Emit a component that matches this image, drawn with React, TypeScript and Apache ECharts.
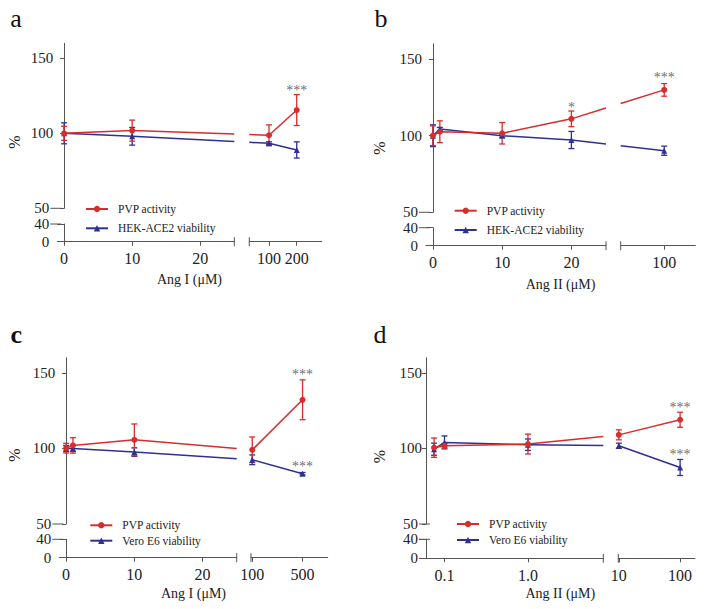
import React, { useEffect, useRef } from 'react';
import * as echarts from 'echarts';

const FONT = '"Liberation Serif", "Times New Roman", serif';
const RED = '#D62D2D';
const BLUE = '#2E3192';
const AXIS = '#555555';
const TEXT = '#222222';
const STAR = '#444444';

const PVP_NAME = 'PVP activity';
const HEK_NAME = 'HEK-ACE2 viability';
const VERO_NAME = 'Vero E6 viability';

// ---------- data ----------
// panel a : Ang I, HEK-ACE2
const aX = [0, 10, 100, 200];
const aPvp = [100, 101.8, 98.7, 115.5];
const aPvpSd = [4.7, 7, 6.9, 10.3];
const aVia = [100, 98, 93.3, 88.9];
const aViaSd = [7, 5.9, 1, 5.4];
const aLeftTicks = [0, 10, 20];
const aRightTicks = [100, 200];
const aStars: [number, number, string][] = [[200, 128.5, '***']];

// panel b : Ang II, HEK-ACE2
const bX = [0, 1, 10, 20, 100];
const bPvp = [100, 102.6, 101.6, 111, 129.9];
const bPvpSd = [6.4, 7.1, 7, 5.1, 4.1];
const bVia = [100, 104.4, 100, 97.2, 90.2];
const bViaSd = [7.1, 1, 1, 5.6, 3];
const bLeftTicks = [0, 10, 20];
const bRightTicks = [100];
const bStars: [number, number, string][] = [[20, 118.5, '*'], [100, 138, '***']];

// panel c : Ang I, Vero E6
const cX = [0, 1, 10, 100, 500];
const cPvp = [100.2, 102, 105.7, 99.1, 132.2];
const cPvpSd = [3.2, 5.1, 10.5, 8.5, 13.2];
const cVia = [100, 100, 97.6, 92.5, 83.3];
const cViaSd = [2, 2, 2.8, 3.2, 0.8];
const cLeftTicks = [0, 10, 20];
const cRightTicks = [100, 500];
const cStars: [number, number, string][] = [[500, 149.2, '***'], [500, 88.2, '***']];

// panel d : Ang II, Vero E6 (log axes)
const dX = [0.075, 0.1, 1, 10, 100];
const dPvp = [100.5, 101.8, 102.9, 109, 119];
const dPvpSd = [6.4, 1.5, 6.6, 3.3, 5];
const dVia = [99.5, 104, 102.5, 101.8, 87.4];
const dViaSd = [4, 4.3, 3.8, 1.7, 5.3];
const dLeftTicks = [0.1, 1];
const dLeftTickLabels = ['0.1', '1.0'];
const dRightTicks = [10, 100];
const dStars: [number, number, string][] = [[100, 127.4, '***'], [100, 96, '***']];

const yUpperTicks = [50, 100, 150];
const yLowerTicks = [0, 40];

// ---------- layout ----------
type Layout = {
  axisX: number; upTop: number; upBot: number; loTop: number; loBot: number;
  lEnd: number; rStart: number; rEnd: number;
  lType: string; lMin: number; lMax: number; rType: string; rMin: number; rMax: number;
  letter: { t: string; x: number; y: number; bold?: boolean };
  title: { x: number; y: number }; pct: { x: number; y: number };
  legend: { left: number; top: number; gap: number };
};

const panels = [
  {
    x: aX, pvp: aPvp, pvpSd: aPvpSd, via: aVia, viaSd: aViaSd, viaName: HEK_NAME, viaSymbol: 'triangle',
    xTitle: 'Ang I (μM)', leftTicks: aLeftTicks, leftLabels: null as string[] | null, rightTicks: aRightTicks, stars: aStars,
    lay: {
      axisX: 57.3, upTop: 43.3, upBot: 208.3, loTop: 224, loBot: 241.7, lEnd: 234.3, rStart: 249.3, rEnd: 321.7,
      lType: 'value', lMin: -1, lMax: 25, rType: 'value', rMin: 29, rMax: 290,
      letter: { t: 'a', x: 16, y: 18 }, title: { x: 189.5, y: 279.3 }, pct: { x: 14, y: 142 },
      legend: { left: 85, top: 203, gap: 7.3 },
    } as Layout,
  },
  {
    x: bX, pvp: bPvp, pvpSd: bPvpSd, via: bVia, viaSd: bViaSd, viaName: HEK_NAME, viaSymbol: 'triangle',
    xTitle: 'Ang II (μM)', leftTicks: bLeftTicks, leftLabels: null as string[] | null, rightTicks: bRightTicks, stars: bStars,
    lay: {
      axisX: 426, upTop: 43.8, upBot: 212.3, loTop: 227.7, loBot: 245.7, lEnd: 606, rStart: 620.7, rEnd: 695.3,
      lType: 'value', lMin: -1, lMax: 25, rType: 'value', rMin: 30, rMax: 150,
      letter: { t: 'b', x: 381, y: 18 }, title: { x: 560.5, y: 284 }, pct: { x: 379.5, y: 148 },
      legend: { left: 453.7, top: 204.7, gap: 7.3 },
    } as Layout,
  },
  {
    x: cX, pvp: cPvp, pvpSd: cPvpSd, via: cVia, viaSd: cViaSd, viaName: VERO_NAME, viaSymbol: 'triangle',
    xTitle: 'Ang I (μM)', leftTicks: cLeftTicks, leftLabels: null as string[] | null, rightTicks: cRightTicks, stars: cStars,
    lay: {
      axisX: 59.3, upTop: 357.8, upBot: 524, loTop: 539.3, loBot: 557.7, lEnd: 236.7, rStart: 251, rEnd: 327.7,
      lType: 'value', lMin: -1, lMax: 25, rType: 'value', rMin: 90, rMax: 700,
      letter: { t: 'c', x: 16.2, y: 334, bold: true }, title: { x: 193.5, y: 593.5 }, pct: { x: 14, y: 455 },
      legend: { left: 89.3, top: 519.3, gap: 3.4 },
    } as Layout,
  },
  {
    x: dX, pvp: dPvp, pvpSd: dPvpSd, via: dVia, viaSd: dViaSd, viaName: VERO_NAME, viaSymbol: 'triangle',
    xTitle: 'Ang II (μM)', leftTicks: dLeftTicks, leftLabels: dLeftTickLabels as string[] | null, rightTicks: dRightTicks, stars: dStars,
    lay: {
      axisX: 426, upTop: 357.8, upBot: 524, loTop: 539.3, loBot: 558.3, lEnd: 603.3, rStart: 618.3, rEnd: 695,
      lType: 'log', lMin: 0.06, lMax: 8, rType: 'log', rMin: 9.8, rMax: 175,
      letter: { t: 'd', x: 380, y: 334 }, title: { x: 560.3, y: 593.5 }, pct: { x: 379.5, y: 456.7 },
      legend: { left: 456, top: 518, gap: 4 },
    } as Layout,
  },
];

function errSeries(g: number, xs: number[], means: number[], sds: number[], color: string) {
  return {
    type: 'custom',
    xAxisIndex: g,
    yAxisIndex: g,
    z: 3,
    silent: true,
    clip: false,
    data: xs.map((x, i) => [x, means[i] - sds[i], means[i] + sds[i]]),
    encode: { x: 0, y: [1, 2] },
    renderItem: (_params: any, api: any) => {
      const x = api.value(0);
      const p1 = api.coord([x, api.value(2)]);
      const p2 = api.coord([x, api.value(1)]);
      const w = 3;
      const style = { stroke: color, lineWidth: 1.3, fill: null };
      return {
        type: 'group',
        children: [
          { type: 'line', shape: { x1: p1[0], y1: p1[1], x2: p2[0], y2: p2[1] }, style },
          { type: 'line', shape: { x1: p1[0] - w, y1: p1[1], x2: p1[0] + w, y2: p1[1] }, style },
          { type: 'line', shape: { x1: p2[0] - w, y1: p2[1], x2: p2[0] + w, y2: p2[1] }, style },
        ],
      };
    },
  };
}

function lineSeries(g: number, name: string, xs: number[], ys: number[], color: string, symbol: string, size: number) {
  return {
    type: 'line',
    name,
    xAxisIndex: g,
    yAxisIndex: g,
    z: 4,
    silent: true,
    clip: false,
    data: xs.map((x, i) => [x, ys[i]]),
    symbol,
    symbolSize: size,
    showSymbol: true,
    lineStyle: { color, width: 1.5 },
    itemStyle: { color },
  };
}

function buildOption() {
  const grids: any[] = [];
  const xAxes: any[] = [];
  const yAxes: any[] = [];
  const series: any[] = [];
  const legends: any[] = [];

  panels.forEach((p, pi) => {
    const L = p.lay;
    const base = pi * 4;
    const upH = L.upBot - L.upTop;
    const loH = L.loBot - L.loTop;
    const lW = L.lEnd - L.axisX;
    const rW = L.rEnd - L.rStart;
    grids.push(
      { left: L.axisX, top: L.upTop, width: lW, height: upH, outerBoundsMode: 'none' },
      { left: L.rStart, top: L.upTop, width: rW, height: upH, outerBoundsMode: 'none' },
      { left: L.axisX, top: L.loTop, width: lW, height: loH, outerBoundsMode: 'none' },
      { left: L.rStart, top: L.loTop, width: rW, height: loH, outerBoundsMode: 'none' },
    );
    const xBase = (type: string, min: number, max: number, g: number) => ({
      type, min, max, gridIndex: g, logBase: 10, splitLine: { show: false },
    });
    const leftFmt = (v: number) => {
      if (p.leftLabels) {
        const i = p.leftTicks.findIndex((t) => Math.abs(t - v) < 1e-9);
        return i >= 0 ? p.leftLabels[i] : '';
      }
      return String(v);
    };
    const shownX = (type: string, min: number, max: number, g: number, ticks: number[], fmt: (v: number) => string) => ({
      ...xBase(type, min, max, g),
      position: 'bottom',
      axisLine: { show: true, onZero: false, lineStyle: { color: AXIS, width: 1 } },
      axisTick: { show: true, length: 4, customValues: ticks, lineStyle: { color: AXIS } },
      axisLabel: {
        show: true, customValues: ticks, formatter: fmt, margin: 9,
        fontFamily: FONT, fontSize: 16, color: TEXT,
      },
    });
    xAxes.push(
      { ...xBase(L.lType, L.lMin, L.lMax, base), show: false },
      { ...xBase(L.rType, L.rMin, L.rMax, base + 1), show: false },
      shownX(L.lType, L.lMin, L.lMax, base + 2, p.leftTicks, leftFmt),
      shownX(L.rType, L.rMin, L.rMax, base + 3, p.rightTicks, (v: number) => String(v)),
    );
    const yStyle = (ticks: number[], tickLen: number, margin: number, rich: boolean) => ({
      axisLine: { show: true, lineStyle: { color: AXIS, width: 1 } },
      axisTick: { show: true, length: tickLen, customValues: ticks, lineStyle: { color: AXIS } },
      axisLabel: {
        show: true, customValues: ticks, margin,
        fontFamily: FONT, fontSize: 15, color: TEXT,
        formatter: rich ? (v: number) => (v === 50 ? `{s|${v}}` : String(v)) : (v: number) => String(v),
        rich: { s: { fontFamily: FONT, fontSize: 15, color: TEXT, padding: [0, 4, 0, 0] } },
      },
      splitLine: { show: false },
    });
    yAxes.push(
      { type: 'value', min: 50, max: 160, gridIndex: base, ...yStyle(yUpperTicks, 4, 4, true) },
      { type: 'value', min: 50, max: 160, gridIndex: base + 1, show: false, splitLine: { show: false } },
      { type: 'value', min: 0, max: 40, gridIndex: base + 2, ...yStyle(yLowerTicks, 7, 8, false) },
      { type: 'value', min: 0, max: 40, gridIndex: base + 3, show: false, splitLine: { show: false } },
    );

    const leftIdx = p.x.map((_, i) => i).filter((i) => p.x[i] <= L.lMax);
    const rightIdx = p.x.map((_, i) => i).filter((i) => p.x[i] > L.lMax);
    const pick = (arr: number[], idx: number[]) => idx.map((i) => arr[i]);
    [[leftIdx, base], [rightIdx, base + 1]].forEach(([idx, g]: any) => {
      const xs = pick(p.x, idx);
      series.push(errSeries(g, xs, pick(p.via, idx), pick(p.viaSd, idx), BLUE));
      series.push(errSeries(g, xs, pick(p.pvp, idx), pick(p.pvpSd, idx), RED));
      series.push(lineSeries(g, p.viaName, xs, pick(p.via, idx), BLUE, p.viaSymbol, 6));
      series.push(lineSeries(g, PVP_NAME, xs, pick(p.pvp, idx), RED, 'circle', 6));
    });
    // significance stars
    p.stars.forEach((s) => {
      const g = s[0] <= L.lMax ? base : base + 1;
      series.push({
        type: 'scatter',
        xAxisIndex: g,
        yAxisIndex: g,
        silent: true,
        z: 5,
        symbolSize: 1,
        itemStyle: { color: 'rgba(0,0,0,0)' },
        data: [[s[0], s[1], s[2]]],
        label: {
          show: true, position: 'inside', formatter: (pr: any) => pr.value[2],
          fontFamily: FONT, fontSize: 14, color: STAR,
        },
      });
    });

    legends.push({
      orient: 'vertical',
      left: L.legend.left,
      top: L.legend.top,
      itemGap: L.legend.gap,
      itemWidth: 22,
      itemHeight: 8,
      padding: 0,
      selectedMode: false,
      data: [PVP_NAME, p.viaName],
      textStyle: { fontFamily: FONT, fontSize: 11.5, color: TEXT, padding: [0, 0, 0, 5] },
    });
  });

  return {
    animation: false,
    backgroundColor: '#ffffff',
    grid: grids,
    xAxis: xAxes,
    yAxis: yAxes,
    series,
    legend: legends,
  };
}

function buildGraphics(chart: any) {
  const els: any[] = [];
  panels.forEach((p, pi) => {
    const L = p.lay;
    const base = pi * 4;
    const axisLineStyle = { stroke: AXIS, lineWidth: 1 };
    // x-axis break bars
    [L.lEnd, L.rStart].forEach((bx) => {
      els.push({ type: 'line', silent: true, shape: { x1: bx, y1: L.loBot - 4.5, x2: bx, y2: L.loBot + 4.5 }, style: axisLineStyle });
    });
    // y-axis break marks
    [L.upBot, L.loTop].forEach((by) => {
      els.push({ type: 'line', silent: true, shape: { x1: L.axisX - 7, y1: by, x2: L.axisX + 4, y2: by }, style: axisLineStyle });
    });
    // connecting lines across the x break
    const li = p.x.map((_, i) => i).filter((i) => p.x[i] <= L.lMax).pop() as number;
    const ri = p.x.findIndex((v) => v > L.lMax);
    [[p.pvp, RED], [p.via, BLUE]].forEach(([ys, color]: any) => {
      const a = chart.convertToPixel({ xAxisIndex: base, yAxisIndex: base }, [p.x[li], ys[li]]);
      const b = chart.convertToPixel({ xAxisIndex: base + 1, yAxisIndex: base + 1 }, [p.x[ri], ys[ri]]);
      if (!a || !b) return;
      const yAt = (xx: number) => a[1] + ((b[1] - a[1]) * (xx - a[0])) / (b[0] - a[0]);
      const st = { stroke: color, lineWidth: 1.5, fill: null };
      els.push({ type: 'line', silent: true, z: 1, shape: { x1: a[0], y1: a[1], x2: L.lEnd, y2: yAt(L.lEnd) }, style: st });
      if (b[0] > L.rStart + 0.5) {
        els.push({ type: 'line', silent: true, z: 1, shape: { x1: L.rStart, y1: yAt(L.rStart), x2: b[0], y2: b[1] }, style: st });
      }
    });
    // texts
    els.push({
      type: 'text', silent: true, x: L.letter.x, y: L.letter.y,
      style: { text: L.letter.t, fontFamily: FONT, fontSize: 26, fontWeight: L.letter.bold ? 'bold' : 'normal', fill: '#111', align: 'center', verticalAlign: 'middle' },
    });
    els.push({
      type: 'text', silent: true, x: L.title.x, y: L.title.y,
      style: { text: p.xTitle, fontFamily: FONT, fontSize: 14, fill: TEXT, align: 'center', verticalAlign: 'middle' },
    });
    els.push({
      type: 'text', silent: true, x: L.pct.x, y: L.pct.y, rotation: Math.PI / 2,
      style: { text: '%', fontFamily: FONT, fontSize: 16, fill: TEXT, align: 'center', verticalAlign: 'middle' },
    });
  });
  return els;
}

export default function App() {
  const ref = useRef<HTMLDivElement>(null);
  useEffect(() => {
    if (!ref.current) return;
    const chart = echarts.init(ref.current, null, { renderer: 'svg' });
    chart.setOption(buildOption() as any);
    chart.setOption({ graphic: { elements: buildGraphics(chart) } } as any);
    return () => chart.dispose();
  }, []);
  return (
    <div
      ref={ref}
      style={{ position: 'absolute', left: 0, top: 0, width: 704, height: 609, background: '#fff' }}
    />
  );
}
